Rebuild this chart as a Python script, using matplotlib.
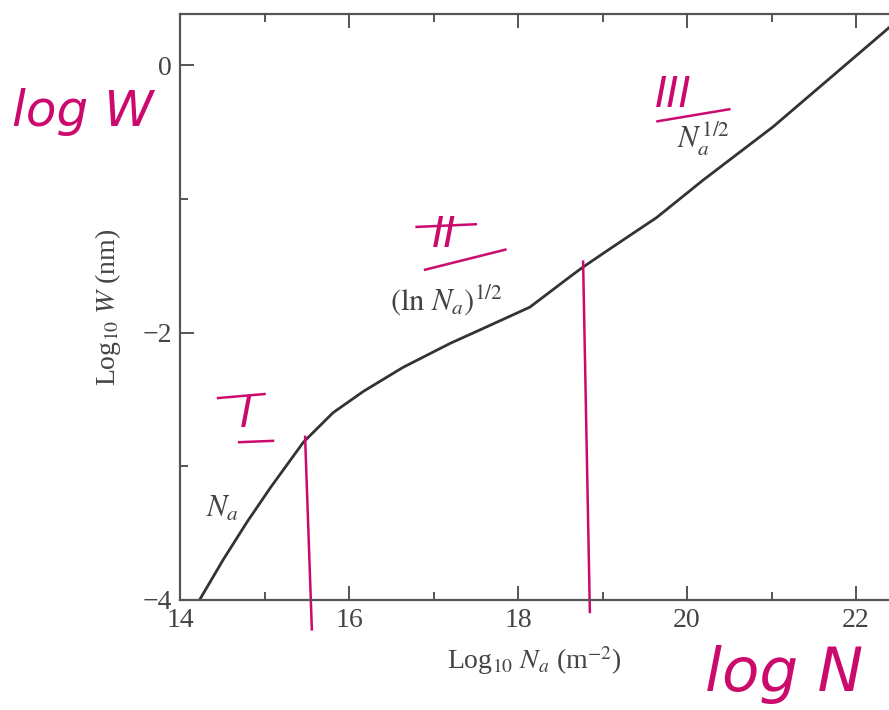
import matplotlib
matplotlib.use("Agg")
import matplotlib.pyplot as plt

# Curve: log10 Na vs log10 W
log_na = [14.24, 14.51, 14.79, 15.07, 15.46, 15.81, 16.17, 16.64, 17.20,
          17.55, 18.14, 18.62, 18.77, 19.12, 19.64, 20.19, 21.02, 22.39]
log_w = [-3.99, -3.70, -3.42, -3.16, -2.82, -2.60, -2.44, -2.26, -2.08,
         -1.98, -1.81, -1.58, -1.51, -1.36, -1.14, -0.86, -0.46, 0.28]

x_ticks = [14, 16, 18, 20, 22]
y_ticks = [-4, -2, 0]

# Regime labels printed on the chart
regime_text = [r"$N_a$", r"$(\ln\,N_a)^{1/2}$", r"$N_a^{1/2}$"]
regime_pos = [(14.5, -3.32), (17.15, -1.76), (20.2, -0.55)]

# Handwritten (magenta) notes, in figure pixels from top-left
ink_text = ["log W", "log N", "I", "II", "III"]
ink_pos = [(12, 112), (705, 675), (240, 415), (432, 235), (655, 95)]
ink_size = [36, 44, 30, 30, 30]
# strokes in data units
ink_lines = [([15.48, 15.56], [-2.78, -4.22]),
             ([18.77, 18.85], [-1.47, -4.09]),
             ([14.45, 15.0], [-2.49, -2.46]),
             ([14.7, 15.1], [-2.82, -2.81]),
             ([16.8, 17.5], [-1.21, -1.19]),
             ([16.9, 17.85], [-1.53, -1.38]),
             ([19.65, 20.5], [-0.42, -0.33])]

ink = "#cc0a6e"
grey = "#444444"

plt.rcParams["font.family"] = ["Liberation Serif", "DejaVu Serif"]
plt.rcParams["mathtext.fontset"] = "stix"

fig = plt.figure(figsize=(8.89, 7.10), dpi=100)
ax = fig.add_axes([0.2025, 0.155, 0.7975, 0.825])

ax.plot(log_na, log_w, color="#333333", lw=2.0)

ax.set_xlim(14, 22.39)
ax.set_ylim(-4, 0.381)
ax.set_xticks(x_ticks)
ax.set_yticks(y_ticks)
ax.set_xticks([15, 17, 19, 21], minor=True)
ax.set_yticks([-3, -1], minor=True)
ax.set_yticklabels(["\u22124", "\u22122", "0"])

for s in ["left", "top", "bottom"]:
    ax.spines[s].set_color("#555555")
    ax.spines[s].set_linewidth(1.6)
ax.spines["right"].set_visible(False)

ax.tick_params(which="both", direction="in", top=True, right=False,
               colors="#555555", labelcolor=grey, labelsize=20, width=1.4)
ax.tick_params(which="major", length=10, pad=6)
ax.tick_params(which="minor", length=6)

ax.set_xlabel(r"Log$_{10}$ $N_a$ (m$^{-2}$)", fontsize=20, color=grey, labelpad=8)
ax.set_ylabel(r"Log$_{10}$ $W$ (nm)", fontsize=20, color=grey, labelpad=14)

for txt, (px, py) in zip(regime_text, regime_pos):
    ax.text(px, py, txt, fontsize=22, color=grey, ha="center", va="center")

for txt, (px, py), fs in zip(ink_text, ink_pos, ink_size):
    fig.text(px / 889, 1 - py / 710, txt, fontsize=fs, color=ink,
             ha="left", va="center", family="DejaVu Sans", style="italic")
for xs, ys in ink_lines:
    ax.plot(xs, ys, color=ink, lw=1.8, clip_on=False)

fig.savefig("out.png", dpi=100)
